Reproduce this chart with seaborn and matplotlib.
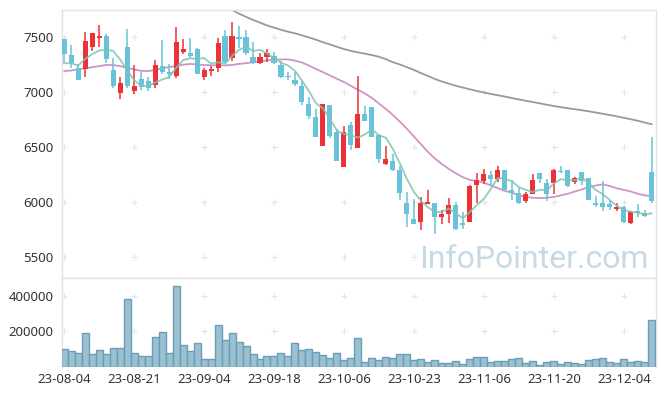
import numpy as np
import pandas as pd
import matplotlib
matplotlib.use("Agg")
import matplotlib.pyplot as plt
import seaborn as sns

# ---------------- data ----------------
opens = [7480, 7335, 7215, 7205, 7405, 7495, 7510, 7200, 6990, 7405,
         7010, 7115, 7100, 7065, 7235, 7185, 7145, 7365, 7355, 7395,
         7140, 7190, 7215, 7510, 7305, 7500, 7500, 7315, 7260, 7315,
         7330, 7245, 7145, 7110, 7055, 6890, 6775, 6510, 6880, 6640,
         6320, 6700, 6495, 6800, 6865, 6610, 6345, 6375, 6290, 5990,
         5845, 5820, 5985, 5990, 5860, 5890, 5975, 5805, 5820, 6150,
         6190, 6245, 6205, 6290, 6110, 6085, 6010, 6075, 6260, 6175,
         6175, 6280, 6290, 6185, 6270, 6215, 5995, 5995, 5980, 5940,
         5955, 5805, 5915, 5900, 6275]
highs = [7485, 7425, 7250, 7545, 7535, 7610, 7530, 7305, 7140, 7570,
         7245, 7180, 7140, 7295, 7470, 7255, 7590, 7480, 7495, 7400,
         7220, 7235, 7490, 7565, 7640, 7600, 7565, 7450, 7350, 7390,
         7360, 7285, 7185, 7185, 7100, 6950, 6845, 6890, 6880, 6660,
         6690, 6730, 7145, 6875, 6865, 6610, 6510, 6435, 6330, 6095,
         6025, 6045, 6105, 5990, 5925, 6040, 6000, 5910, 6150, 6265,
         6300, 6285, 6330, 6290, 6200, 6125, 6095, 6255, 6260, 6205,
         6300, 6325, 6295, 6230, 6275, 6220, 6050, 6195, 6015, 5995,
         5965, 5920, 5980, 5930, 6595]
lows = [7265, 7215, 7110, 7140, 7370, 7405, 7260, 7040, 6935, 7035,
        6985, 7015, 7005, 7035, 7160, 7115, 7125, 7345, 7310, 7160,
        7110, 7145, 7180, 7260, 7285, 7400, 7335, 7250, 7250, 7270,
        7255, 7125, 7110, 7050, 6885, 6755, 6590, 6510, 6580, 6370,
        6320, 6470, 6495, 6740, 6590, 6350, 6340, 6285, 6020, 5770,
        5800, 5745, 5980, 5710, 5800, 5810, 5745, 5755, 5820, 5990,
        6165, 6155, 6185, 6105, 6015, 5985, 5995, 6070, 6175, 6010,
        6070, 6260, 6135, 6160, 6155, 6015, 5955, 5915, 5925, 5915,
        5810, 5800, 5865, 5860, 5995]
closes = [7345, 7260, 7110, 7465, 7535, 7510, 7300, 7055, 7080, 7050,
          7055, 7045, 7035, 7245, 7185, 7165, 7455, 7395, 7330, 7160,
          7200, 7210, 7445, 7275, 7505, 7480, 7350, 7260, 7315, 7350,
          7265, 7140, 7135, 7070, 6905, 6785, 6595, 6890, 6600, 6375,
          6640, 6515, 6800, 6740, 6595, 6390, 6390, 6290, 6085, 5890,
          5800, 5990, 6000, 5860, 5890, 5970, 5750, 5795, 6145, 6200,
          6255, 6205, 6290, 6110, 6085, 5990, 6070, 6200, 6210, 6070,
          6290, 6270, 6145, 6215, 6195, 6020, 5970, 5950, 5950, 5950,
          5815, 5905, 5900, 5875, 6005]
volumes = [100000, 90700, 79600, 190700, 72200, 96300, 72200, 105600, 105600, 383400,
           77800, 61100, 61100, 166700, 194500, 77800, 455600, 122200, 90700, 133300,
           44400, 44400, 233400, 150000, 188900, 138900, 116700, 72200, 44400, 61100,
           61100, 77800, 61100, 133300, 94400, 100000, 83300, 66700, 50000, 77800,
           38900, 50000, 161100, 27800, 50000, 38900, 55600, 50000, 72200, 72200,
           38900, 44400, 27800, 38900, 22200, 22200, 33300, 16700, 44400, 55600,
           55600, 27800, 33300, 33300, 44400, 50000, 22200, 33300, 11100, 27800,
           33300, 16700, 27800, 22200, 16700, 38900, 44400, 50000, 27800, 22200,
           44400, 27800, 33300, 27800, 266700]
ma5 = [7261, 7261, 7240, 7300, 7343, 7376, 7384, 7373, 7296, 7199,
       7108, 7057, 7053, 7086, 7113, 7135, 7217, 7289, 7306, 7301,
       7308, 7259, 7269, 7258, 7327, 7383, 7411, 7374, 7382, 7351,
       7308, 7266, 7241, 7192, 7103, 7007, 6898, 6849, 6755, 6649,
       6620, 6604, 6586, 6614, 6658, 6608, 6583, 6481, 6350, 6209,
       6091, 6011, 5953, 5908, 5908, 5942, 5894, 5853, 5910, 5972,
       6029, 6120, 6219, 6212, 6189, 6136, 6109, 6091, 6111, 6108,
       6168, 6208, 6197, 6198, 6223, 6169, 6109, 6070, 6017, 5966,
       5925, 5912, 5902, 5887, 5898]
ma20 = [7190, 7195, 7205, 7215, 7225, 7235, 7245, 7245, 7235, 7220,
        7205, 7192, 7190, 7200, 7215, 7225, 7235, 7248, 7255, 7250,
        7245, 7243, 7242, 7242, 7245, 7255, 7262, 7270, 7278, 7288,
        7292, 7296, 7296, 7285, 7268, 7240, 7208, 7180, 7150, 7120,
        7090, 7055, 7020, 6985, 6945, 6895, 6845, 6790, 6730, 6665,
        6595, 6525, 6455, 6395, 6345, 6300, 6260, 6225, 6200, 6190,
        6175, 6150, 6125, 6100, 6085, 6060, 6045, 6038, 6035, 6038,
        6045, 6060, 6075, 6095, 6115, 6135, 6150, 6160, 6145, 6125,
        6110, 6095, 6075, 6060, 6055]
ma60 = [np.nan] * 22 + [
        7830, 7780, 7745, 7712, 7683, 7655, 7630, 7605,
        7585, 7565, 7548, 7533, 7515, 7495, 7475, 7452, 7432, 7410,
        7390, 7373, 7360, 7348, 7335, 7320, 7298, 7270, 7250, 7225,
        7200, 7172, 7145, 7118, 7095, 7075, 7056, 7040, 7024, 7009,
        6995, 6982, 6970, 6958, 6945, 6932, 6920, 6908, 6896, 6884,
        6872, 6862, 6852, 6843, 6834, 6824, 6813, 6802, 6790, 6778,
        6765, 6752, 6738, 6722, 6706]
tick_labels = ["23-08-04", "23-08-21", "23-09-04", "23-09-18", "23-10-06",
               "23-10-23", "23-11-06", "23-11-20", "23-12-04"]
price_ticks = [5500, 6000, 6500, 7000, 7500]
volume_ticks = [200000, 400000]

# ---------------- styling ----------------
sns.set_theme(style="white")
plt.rcParams["font.family"] = ["Noto Sans", "DejaVu Sans"]

UP = "#ec3237"
DOWN = "#68c2d9"
GRID = "#e4e4e4"
SPINE = "#e3e3e3"
TXT = "#333333"

n = len(closes)
idx = np.arange(n)
df = pd.DataFrame({"i": idx, "open": opens, "high": highs, "low": lows,
                   "close": closes, "volume": volumes,
                   "ma5": ma5, "ma20": ma20, "ma60": ma60})

W, H = 665, 396
fig = plt.figure(figsize=(W / 100, H / 100), dpi=100)
left = 62 / W
width = (656 - 62) / W
ax = fig.add_axes([left, 1 - 278 / H, width, (278 - 10) / H])
axv = fig.add_axes([left, 1 - 367 / H, width, (367 - 278) / H], sharex=ax)

# ---------------- price panel ----------------
up = df["close"] >= df["open"]
colors = np.where(up, UP, DOWN)
ax.vlines(df["i"], df["low"], df["high"], colors=colors, linewidth=1.1, zorder=3)
body_bottom = np.minimum(df["open"], df["close"])
body_h = np.maximum(np.abs(df["close"] - df["open"]), 9)
ax.bar(df["i"], body_h, bottom=body_bottom, width=0.72, color=colors,
       linewidth=0, zorder=4)

sns.lineplot(data=df, x="i", y="ma60", ax=ax, color="#8e8e8e", linewidth=1.3,
             alpha=0.9, zorder=2)
sns.lineplot(data=df, x="i", y="ma20", ax=ax, color="#c682bf", linewidth=1.3,
             alpha=0.85, zorder=2)
sns.lineplot(data=df, x="i", y="ma5", ax=ax, color="#7fc4b0", linewidth=1.3,
             alpha=0.85, zorder=5)

ax.set_ylim(5309, 7745)
ax.set_xlim(-0.3, 84.6)
ax.set_yticks(price_ticks)
ax.set_yticklabels([str(t) for t in price_ticks])

ax.text(0.987, 0.038, "InfoPointer.com", transform=ax.transAxes,
        ha="right", va="baseline", fontsize=23, color="#c6d9e5",
        family=["Roboto", "DejaVu Sans"], zorder=1)

# ---------------- volume panel ----------------
sns.barplot(data=df, x="i", y="volume", ax=axv, native_scale=True, width=1.0,
            color="#9ac0d1", saturation=1, edgecolor="#6a9db6", linewidth=1.0,
            errorbar=None, zorder=3)
axv.set_ylim(0, 500000)
axv.set_yticks(volume_ticks)
axv.set_yticklabels([str(t) for t in volume_ticks])

xt = list(range(0, n, 10))[:len(tick_labels)]
axv.set_xticks(xt)
axv.set_xticklabels(tick_labels)
axv.set_xlim(-0.3, 84.6)

# grid crosses at tick intersections
for a, yt in ((ax, price_ticks), (axv, volume_ticks)):
    gx, gy = np.meshgrid(xt, yt)
    a.scatter(gx.ravel(), gy.ravel(), marker="+", s=16, color=GRID,
              linewidths=0.8, zorder=0)

for a in (ax, axv):
    a.set_xlabel("")
    a.set_ylabel("")
    a.tick_params(axis="both", length=0, labelsize=9.5, colors=TXT, pad=6)
    for s in a.spines.values():
        s.set_color(SPINE)
        s.set_linewidth(1.0)
plt.setp(ax.get_xticklabels(), visible=False)
axv.spines["bottom"].set_visible(False)
axv.tick_params(axis="x", pad=4)

fig.savefig("out.png", dpi=100, facecolor="white")
